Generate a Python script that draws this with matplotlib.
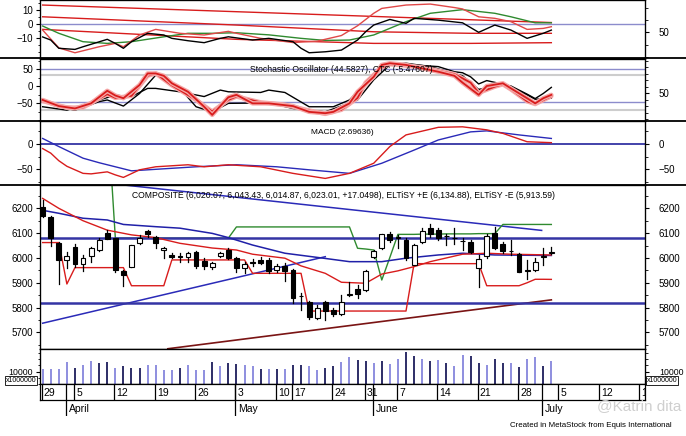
import numpy as np
import matplotlib.pyplot as plt
from matplotlib.lines import Line2D
from matplotlib.patches import Rectangle
from matplotlib.ticker import MultipleLocator

plt.rcParams['font.family'] = ['Liberation Sans', 'DejaVu Sans']
nan = np.nan

# ---------------- data (trading-day index 0 = 29 Mar 2021) ----------------
opens = [6207, 6166, 6062, 5990, 6043, 5975, 6009, 6032, 6099, 6079,
         5948, 5965, 6059, 6108, 6086, 6032, 6012, 6008, 6005, 6023,
         5988, 5962, 6009, 6032, 6001, 5958, 5985, 5990, 5992, 5952,
         5969, 5952, 5848, 5824, 5759, 5821, 5790, 5773, 5850, 5874,
         5871, 6005, 6039, 6095, 6080, 6073, 5972, 6066, 6120, 6113,
         6088, 6080, 6070, 6066, 5958, 6009, 6099, 6055, 6028, 6015,
         5948, 5952, 6005, 6020.07]
highs = [6232, 6168, 6066, 6025, 6055, 6012, 6046, 6080, 6113, 6082,
         5950, 6052, 6093, 6112, 6090, 6045, 6020, 6018, 6025, 6028,
         5998, 5985, 6025, 6039, 6005, 5985, 5996, 6005, 5998, 5975,
         5978, 5955, 5858, 5826, 5810, 5827, 5797, 5851, 5905, 5891,
         5950, 6032, 6097, 6105, 6093, 6082, 6055, 6120, 6136, 6122,
         6095, 6120, 6082, 6073, 6012, 6095, 6126, 6066, 6073, 6019,
         5992, 5999, 6039, 6043.43]
lows = [6165, 6048, 5895, 5960, 5965, 5948, 5985, 6030, 6075, 5945,
        5888, 5965, 6055, 6085, 6040, 6000, 5998, 5985, 5985, 5960,
        5956, 5955, 6005, 5996, 5945, 5938, 5969, 5975, 5938, 5945,
        5907, 5817, 5790, 5755, 5752, 5750, 5765, 5770, 5845, 5837,
        5865, 6000, 6035, 6066, 6040, 5992, 5970, 6060, 6086, 6073,
        6052, 6055, 6032, 6019, 5884, 6000, 6035, 6019, 6012, 5942,
        5915, 5948, 5972, 6014.87]
closes = [6170, 6080, 5992, 6009, 5975, 6001, 6039, 6073, 6077, 5952,
          5932, 6052, 6079, 6098, 6059, 6042, 6004, 6004, 6019, 5969,
          5966, 5978, 6019, 6001, 5958, 5975, 5980, 5979, 5948, 5969,
          5948, 5838, 5845, 5763, 5797, 5786, 5773, 5821, 5853, 5853,
          5948, 6030, 6095, 6073, 6083, 6000, 6052, 6109, 6095, 6079,
          6090, 6079, 6068, 6023, 5996, 6090, 6039, 6026, 6029, 5945,
          5950, 5985, 6008, 6023.01]
volume = [12390, 12390, 12390, 17720, 13180, 15080, 18560, 16940, 17210, 13180,
          14230, 13180, 13180, 15080, 15080, 11030, 11570, 13180, 15080, 11570,
          11570, 17210, 14230, 16400, 15870, 15080, 14500, 12390, 12390, 12390,
          12390, 15080, 15080, 14500, 11030, 13180, 14500, 17720, 21760, 19080,
          18560, 16940, 18560, 15600, 19880, 25780, 22300, 19880, 18290, 19080,
          16400, 14500, 23100, 22560, 16400, 15080, 19880, 16400, 16940, 13720,
          19880, 21760, 14230, 18560]
vol_shade = ['L', 'L', 'L', 'L', 'D', 'L', 'L', 'D', 'D', 'L',
             'D', 'D', 'D', 'L', 'L', 'L', 'L', 'D', 'L', 'L',
             'L', 'D', 'L', 'D', 'D', 'L', 'L', 'D', 'L', 'D',
             'L', 'D', 'D', 'L', 'L', 'D', 'D', 'L', 'L', 'D',
             'D', 'L', 'D', 'L', 'L', 'D', 'D', 'L', 'D', 'L',
             'D', 'L', 'L', 'D', 'D', 'L', 'D', 'D', 'L', 'D',
             'L', 'L', 'D', 'L']

elt_dn = [6062, 6062, 6062, 5895, 5961, 5961, 5961, 5961, 5961, 5961,
          5961, 5888, 5888, 5888, 5888, 5888, 5992, 5992, 5992, 5992,
          5992, 5992, 5992, 5992, 5992, 5992, 5938, 5938, 5938, 5938,
          5938, 5938, 5938, 5786, 5786, 5786, 5786, 5786, 5786, 5786,
          5786, 5786, 5786, 5786, 5786, 5786, 5977, 5977, 5977, 5977,
          5977, 5977, 5977, 5977, 5977, 5888, 5888, 5888, 5888, 5888,
          5900, 5914, 5914, 5913.59]
elt_up = [nan, nan, nan, nan, nan, nan, nan, nan, 6600, 6080,
          6080, 6080, 6080, 6080, 6080, 6080, 6080, 6080, 6080, 6080,
          6080, 6080, 6080, 6080, 6125, 6125, 6125, 6125, 6125, 6125,
          6125, 6125, 6125, 6125, 6125, 6125, 6125, 6125, 6125, 6039,
          6036, 6032, 5911, 6002, 6095, 6095, 6095, 6096, 6096, 6096,
          6097, 6097, 6097, 6097, 6098, 6098, 6098, 6135, 6135, 6135,
          6135, 6135, 6135, 6134.88]

red_ma_x = [0, 2, 5, 8, 11, 14, 17, 21, 24, 26, 30, 32, 35, 37, 40, 42, 44, 46, 48, 50, 52, 55, 58, 63]
red_ma_y = [6240, 6200, 6150, 6112, 6093, 6082, 6059, 6040, 6032, 6015, 5999, 5968, 5938, 5902,
            5898, 5935, 5948, 5965, 5985, 6000, 6015, 6019, 6015, 6012]
blue_ma_x = [0, 2, 5, 8, 10, 14, 17, 21, 23, 26, 30, 35, 38, 42, 45, 49, 52, 56, 63]
blue_ma_y = [6192, 6180, 6160, 6153, 6135, 6126, 6120, 6099, 6082, 6052, 6019, 5998, 5985,
             5985, 5999, 6012, 6019, 6012, 6010]
trend_dn_x, trend_dn_y = [9.5, 61.8], [6296, 6111]
trend_up_x, trend_up_y = [0, 35], [5737, 6005]
trend_lo_x, trend_lo_y = [15.5, 63], [5634, 5831]
price_levels = [6080, 5820]

# top oscillator panel
p1_blk_x = [0, 1, 2, 4, 5, 8, 9, 10, 11, 13, 15, 16, 18, 20, 22, 23, 26, 28, 31, 32, 33, 35, 37,
            39, 40, 41, 43, 45, 46, 49, 52, 54, 56, 58, 60, 62, 63]
p1_blk_y = [-9, -11.2, -17.1, -17.9, -16, -10.7, -13.6, -17.1, -12.4, -6.4, -7.6, -10, -11.7,
            -13.1, -10, -8.9, -11.2, -10, -12.4, -17.1, -20.3, -19.6, -18.4, -11.2, -5.3, -0.5,
            3.5, 0.7, 4.3, 3, 1.1, -5.7, -0.5, -4.1, -10, -6.4, -4.1]
p1_red_x = [0, 2, 4, 7, 9, 10, 12, 14, 17, 20, 23, 24, 27, 31, 34, 37, 39, 41, 42, 45, 48, 51,
            52, 54, 56, 58, 60, 62, 63]
p1_red_y = [-4.1, -16.8, -20.3, -16, -13.6, -16, -7.6, -3.6, -6.4, -7.6, -5, -6.4, -10, -13,
            -12, -8, -1, 7.9, 11.4, 13.8, 14.5, 12, 11, 5.4, 4.3, 1.9, -3.6, -2.9, -1.7]
p1_grn_x = [0, 2, 5, 8, 11, 15, 18, 21, 24, 28, 32, 35, 38, 41, 45, 48, 52, 56, 58, 61, 63]
p1_grn_y = [-1.2, -6.4, -12.4, -13.6, -12.4, -8.9, -6.4, -6.4, -6, -7.5, -10, -11.5, -11.2,
            -7.6, 1.9, 7.9, 10.5, 7.9, 5.4, 1.1, 1.1]
p1_top_x, p1_top_y = [0, 63], [13.8, 1.3]
p1_mid_x, p1_mid_y = [0, 24, 41, 53, 63], [5.4, -0.5, -5.3, -6.4, -6.4]
p1_low_x, p1_low_y = [0, 24, 41, 53, 63], [-3.6, -10.7, -13.6, -13.6, -13.1]

# stochastic panel
p2_redA_x = [0, 2, 4, 6, 8, 9, 10, 12, 13, 14, 15, 16, 18, 20, 21, 23, 24, 26, 28, 31, 33, 35,
             36, 38, 39, 41, 42, 43, 45, 47, 49, 51, 52, 54, 55, 57, 58, 60, 61, 62, 63]
p2_redA_y = [-41, -59, -66, -51, -14, -28, -36, 3, 37, 37, 30, 8, -17, -61, -85, -33, -26, -51,
             -51, -59, -76, -80, -76, -51, -17, 27, 62, 67, 62, 52, 42, 30, 10, -26, 0, 8, -7,
             -36, -51, -36, -26]
p2_redB_x = [0, 3, 5, 8, 9, 11, 13, 14, 16, 19, 21, 23, 24, 27, 30, 33, 35, 37, 39, 40, 42, 43,
             45, 47, 49, 51, 53, 54, 56, 57, 58, 60, 61, 63]
p2_redB_y = [-44, -64, -63, -24, -35, -29, 30, 37, 2, -41, -75, -41, -31, -48, -55, -72, -82,
             -70, -35, 10, 55, 64, 60, 55, 45, 35, 10, -20, -2, 5, -10, -45, -53, -30]
p2_blkA_x = [0, 2, 4, 7, 8, 10, 12, 14, 15, 17, 19, 21, 23, 27, 29, 31, 35, 39, 41, 43, 45, 48,
             52, 54, 57, 58, 60, 61, 63]
p2_blkA_y = [-39, -61, -71, -46, -41, -59, -22, 32, 27, -7, -61, -76, -51, -50, -55, -66, -76,
             -41, 18, 62, 67, 57, 30, -10, 3, -4, -26, -39, -36]
p2_blkB_x = [0, 3, 5, 7, 9, 11, 13, 14, 17, 20, 22, 23, 27, 28, 30, 33, 36, 38, 40, 42, 43, 46,
             49, 51, 52, 53, 54, 55, 58, 60, 61, 62, 63]
p2_blkB_y = [-61, -71, -56, -41, -27, -31, -7, -7, -17, -31, -12, -17, -19, -12, -19, -61, -61,
             -41, 8, 57, 67, 62, 57, 42, 39, 27, 6, 16, 0, -24, -37, -22, -4]
p2_blue_levels = [50, -46]
p2_gray_levels = [33, -70]

# MACD panel
macd_x = [0, 1, 2, 3, 5, 6, 8, 9, 10, 12, 14, 18, 20, 23, 27, 31, 35, 38, 41, 43, 45, 49, 52,
          55, 57, 60, 63]
macd_y = [-9, -18, -33, -44, -58, -59, -55, -61, -66, -51, -45, -41, -45, -41, -45, -58, -68,
          -58, -38, -5, 18, 33, 34, 28, 21, 4.5, 2.69636]
sig_x = [0, 2, 5, 7, 9, 11, 13, 16, 19, 24, 29, 33, 38, 42, 46, 49, 53, 55, 59, 63]
sig_y = [11, -5, -28, -37, -45, -53, -51, -48, -45, -41, -45, -51, -58, -38, -12, 8, 24, 26, 18, 11]

# date axis
tick_idx = [0, 4, 9, 14, 19, 24, 29, 31, 36, 40, 44, 49, 54, 59, 64, 69, 74]
tick_lbl = ['29', '5', '12', '19', '26', '3', '10', '17', '24', '31', '7', '14', '21', '28',
            '5', '12', '19']
month_idx = [3, 24, 41, 62]
month_lbl = ['April', 'May', 'June', 'July']

# ---------------- layout ----------------
W, H = 686, 436
fig = plt.figure(figsize=(W / 100, H / 100), dpi=100)
XL, XR = 40, 645
X0, X1 = -0.33, 74.6
RED, BLUE, GRN = '#d81c1c', '#22229c', '#2f8a2f'


def panel(top, bottom):
    ax = fig.add_axes([XL / W, 1 - bottom / H, (XR - XL) / W, (bottom - top) / H])
    ax.set_xlim(X0, X1)
    ax.set_xticks([])
    for s in ax.spines.values():
        s.set_linewidth(0.9)
    ax.tick_params(axis='y', which='major', direction='out', length=3, width=0.8,
                   labelsize=7, pad=2)
    ax.tick_params(axis='y', which='minor', direction='out', length=1.8, width=0.6)
    return ax


def right_axis(ax, lo, hi, ticks, minor):
    r = ax.twinx()
    r.set_ylim(lo, hi)
    r.set_yticks(ticks)
    r.yaxis.set_minor_locator(MultipleLocator(minor))
    r.tick_params(axis='y', which='major', direction='out', length=3, width=0.8,
                  labelsize=7, pad=7)
    r.tick_params(axis='y', which='minor', direction='out', length=1.8, width=0.6)
    return r


# panel 1
ax1 = panel(0, 58.5)
ax1.set_ylim(-24.4, 17.4)
ax1.set_yticks([-10, 0, 10])
ax1.yaxis.set_minor_locator(MultipleLocator(5))
right_axis(ax1, 28.7, 76.3, [50], 10)
ax1.axhline(0, color='#8c8ccc', lw=1)
for xs, ys in [(p1_top_x, p1_top_y), (p1_mid_x, p1_mid_y), (p1_low_x, p1_low_y)]:
    ax1.plot(xs, ys, color=RED, lw=1)
ax1.plot(p1_grn_x, p1_grn_y, color=GRN, lw=1)
ax1.plot(p1_red_x, p1_red_y, color='#e04848', lw=1)
ax1.plot(p1_blk_x, p1_blk_y, color='black', lw=1)

# panel 2
ax2 = panel(58.5, 121)
ax2.set_ylim(-102.9, 80.9)
ax2.set_yticks([-50, 0, 50])
ax2.yaxis.set_minor_locator(MultipleLocator(25))
right_axis(ax2, 7.4, 103.5, [50], 10)
for lv in p2_gray_levels:
    ax2.axhline(lv, color='#cdcdcd', lw=1.5)
for lv in p2_blue_levels:
    ax2.axhline(lv, color='#8c8ccc', lw=1)
ax2.plot(p2_blkB_x, p2_blkB_y, color='black', lw=1)
ax2.plot(p2_blkA_x, p2_blkA_y, color='black', lw=1)
for xs, ys in [(p2_redB_x, p2_redB_y), (p2_redA_x, p2_redA_y)]:
    ax2.plot(xs, ys, color='#f5a8a8', lw=3.2, solid_capstyle='round')
    ax2.plot(xs, ys, color=RED, lw=1.3)

# panel 3
ax3 = panel(121, 185)
ax3.set_ylim(-81, 45.5)
ax3.set_yticks([-50, 0])
ax3.yaxis.set_minor_locator(MultipleLocator(25))
right_axis(ax3, -81, 45.5, [-50, 0], 25)
ax3.axhline(0, color=BLUE, lw=1.2)
ax3.plot(sig_x, sig_y, color='#2a2ab8', lw=1)
ax3.plot(macd_x, macd_y, color=RED, lw=1)

# panel 4 (price)
ax4 = panel(185, 349)
ax4.set_ylim(5633, 6294)
ax4.set_yticks([5700, 5800, 5900, 6000, 6100, 6200])
ax4.yaxis.set_minor_locator(MultipleLocator(50))
right_axis(ax4, 5633, 6294, [5700, 5800, 5900, 6000, 6100, 6200], 50)
ax4.plot(trend_lo_x, trend_lo_y, color='#7a1414', lw=1.2)
ax4.plot(trend_up_x, trend_up_y, color='#2a2ab8', lw=1.1)
ax4.plot(trend_dn_x, trend_dn_y, color='#2a2ab8', lw=1.1)
ax4.plot(range(len(elt_up)), elt_up, color=GRN, lw=1)
for lv in price_levels:
    ax4.axhline(lv, color='#3434a4', lw=1.8)
ax4.plot(blue_ma_x, blue_ma_y, color='#2020a8', lw=1.1)
ax4.plot(red_ma_x, red_ma_y, color=RED, lw=1)
ax4.plot(range(len(elt_dn)), elt_dn, color=RED, lw=1)
for i, (o, h, l, c) in enumerate(zip(opens, highs, lows, closes)):
    ax4.plot([i, i], [l, h], color='black', lw=0.9, zorder=4)
    lo_b, hi_b = min(o, c), max(o, c)
    ax4.add_patch(Rectangle((i - 0.3, lo_b), 0.6, max(hi_b - lo_b, 1.5),
                            facecolor='black' if c < o else 'white',
                            edgecolor='black', lw=0.8, zorder=5))

# panel 5 (volume)
ax5 = panel(349, 384.3)
ax5.set_ylim(0, 27800)
ax5.set_yticks([10000])
ax5.yaxis.set_minor_locator(MultipleLocator(5000))
ax5.tick_params(axis='y', which='major', labelsize=6.3)
rv = right_axis(ax5, 0, 27800, [10000], 5000)
rv.tick_params(axis='y', which='major', labelsize=6.3)
ax5.vlines(range(len(volume)), 0, volume,
           colors=['#1c1c5c' if s == 'D' else '#8686dc' for s in vol_shade], lw=1.3)

# date rows
axd = panel(384.3, 400)
axd.set_ylim(0, 1)
axd.set_yticks([])
for t, s in zip(tick_idx, tick_lbl):
    axd.plot([t - 0.12, t - 0.12], [0, 1], color='black', lw=0.9, clip_on=True)
    axd.text(t + 0.15, 0.45, s, fontsize=7.5, va='center', ha='left', clip_on=True)
axm = fig.add_axes([XL / W, 1 - 416 / H, (XR - XL) / W, 16 / H])
axm.set_xlim(X0, X1)
axm.set_ylim(0, 1)
axm.axis('off')
for m, s in zip(month_idx, month_lbl):
    axm.plot([m - 0.12, m - 0.12], [0, 1], color='black', lw=0.9)
    axd.plot([m - 0.12, m - 0.12], [0, 1], color='black', lw=0.9)
    axm.text(m + 0.2, 0.45, s, fontsize=7.5, va='center', ha='left')

# full-width separators
for yy in [58.5, 121, 185]:
    fig.add_artist(Line2D([0, 1], [1 - yy / H] * 2, transform=fig.transFigure,
                          color='black', lw=1.3))

# texts
txt = [
    (132, 196, 421, 'COMPOSITE (6,020.07, 6,043.43, 6,014.87, 6,023.01, +17.0498), '
                    'ELTiSY +E (6,134.88), ELTiSY -E (5,913.59)'),
    (250, 70, 184, 'Stochastic Oscillator (44.5827), CTC (-5.47607)'),
    (311, 132.5, 63, 'MACD (2.69636)'),
    (510, 425, 162, 'Created in MetaStock from Equis International'),
]
made = []
for x, y, w, s in txt:
    t = fig.text(x / W, 1 - y / H, s, fontsize=8, ha='left', va='center', zorder=0.5)
    made.append((t, w))
fig.text(597 / W, 1 - 406 / H, '@Katrin dita', fontsize=11, color='#cfcfcf',
         ha='left', va='center')
for x in [21, 662]:
    fig.text(x / W, 1 - 380.5 / H, 'x1000000', fontsize=5, ha='center', va='center',
             bbox=dict(facecolor='white', edgecolor='black', lw=0.6, pad=0.6))

r = fig.canvas.get_renderer()
for t, w in made:
    bw = t.get_window_extent(r).width
    t.set_fontsize(t.get_fontsize() * w / bw)

fig.savefig('out.png', dpi=100)
